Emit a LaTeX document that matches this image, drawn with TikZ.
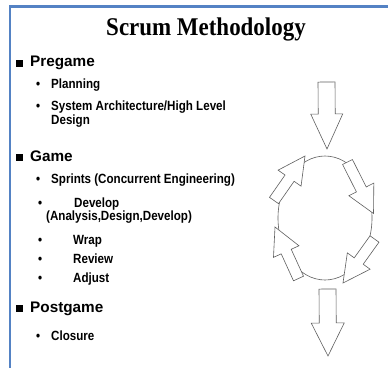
\documentclass[tikz,border=0pt]{standalone}
\usepackage{fontspec}
\setmainfont{Liberation Sans}
\newfontfamily\titlefont{Liberation Serif}
\usetikzlibrary{calc}
\definecolor{framecol}{RGB}{84,130,196}
\definecolor{arrowcol}{RGB}{95,95,95}
\tikzset{
  arrowline/.style={draw=arrowcol, line width=0.6pt, fill=white, line join=miter},
  heading/.style={anchor=base west, inner sep=0pt, font=\bfseries\fontsize{15.3}{18}\selectfont},
  item/.style={anchor=base west, inner sep=0pt, yscale=1.15, font=\bfseries\fontsize{11.6}{14}\selectfont},
  sqmark/.style={fill=black}
}
% #1 name prefix, #2 tail, #3 tip, #4 shaft half width, #5 head half width, #6 head length
\newcommand\blockarrow[6]{%
  \coordinate (#1-t) at (#2);
  \coordinate (#1-p) at (#3);
  \coordinate (#1-c) at ($(#1-p)!#6pt!(#1-t)$);
  \path[arrowline] ($(#1-t)!#4pt!90:(#1-p)$) -- ($(#1-c)!#4pt!-90:(#1-t)$)
    -- ($(#1-c)!#5pt!-90:(#1-t)$) -- (#1-p) -- ($(#1-c)!#5pt!90:(#1-t)$)
    -- ($(#1-c)!#4pt!90:(#1-t)$) -- ($(#1-t)!#4pt!-90:(#1-p)$) -- cycle;
}
\begin{document}
\begin{tikzpicture}[x=1pt,y=-1pt]
\useasboundingbox (0,0) rectangle (388,367);
\fill[white] (0,0) rectangle (388,367);
% frame
\draw[framecol, line width=2.6pt] (10,368) -- (10,6.5) -- (389,6.5);
% title
\node[anchor=base, inner sep=0pt, xscale=0.9, font=\titlefont\bfseries\fontsize{25.5}{30}\selectfont] (title) at (206,35) {Scrum Methodology};
% headings
\fill[sqmark] (16,60) rectangle (23,67);
\node[heading] (pre) at (30,66) {Pregame};
\node[item] (b1) at (36,88) {•};
\node[item] (t1) at (51,88) {Planning};
\node[item] (b2) at (36,110) {•};
\node[item] (t2) at (51,110) {System Architecture/High Level};
\node[item] (t2b) at (51,124) {Design};
\fill[sqmark] (16,154) rectangle (23,161);
\node[heading] (game) at (30,161) {Game};
\node[item] (b3) at (36,183) {•};
\node[item] (t3) at (51,183) {Sprints (Concurrent Engineering)};
\node[item] (b4) at (38,207) {•};
\node[item] (t4) at (74,207) {Develop};
\node[item] (t4b) at (46,220) {(Analysis,Design,Develop)};
\node[item] (b5) at (38,244) {•};
\node[item] (t5) at (73,244) {Wrap};
\node[item] (b6) at (38,263) {•};
\node[item] (t6) at (73,263) {Review};
\node[item] (b7) at (38,282) {•};
\node[item] (t7) at (73,282) {Adjust};
\fill[sqmark] (16,305) rectangle (23,312);
\node[heading] (post) at (30,312) {Postgame};
\node[item] (b8) at (36,340) {•};
\node[item] (t8) at (51,340) {Closure};
% cycle diagram
\coordinate (cyc) at (325,218);
\draw[arrowcol, line width=0.6pt] (cyc) ellipse [x radius=47, y radius=62];
\blockarrow{top}{326.5,82}{327,149}{8.5}{16}{35}
\blockarrow{bot}{327.5,289}{328,356}{8.5}{16.5}{33}
\blockarrow{ul}{274,200.5}{305,156}{5.5}{14}{27}
\blockarrow{ur}{347.5,162}{373.5,213.5}{5.5}{14}{27}
\blockarrow{lr}{374.5,239}{343,283}{5.5}{14}{27}
\blockarrow{ll}{298.5,278.5}{275,227}{5.5}{14}{27}
\end{tikzpicture}
\end{document}
